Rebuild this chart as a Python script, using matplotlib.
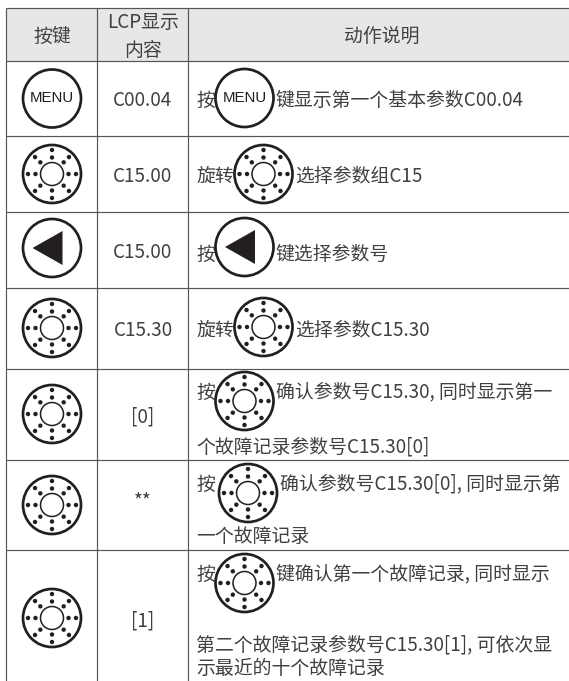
import math
import matplotlib
matplotlib.use("Agg")
import matplotlib.pyplot as plt
from matplotlib.patches import Circle, Polygon, Rectangle

plt.rcParams['font.family'] = ['Noto Sans CJK SC', 'DejaVu Sans']

# ---- content ----
headers = ["按键", "LCP显示", "内容", "动作说明"]
key_icons = ["menu", "knob", "left", "knob", "knob", "knob", "knob"]
lcp_values = ["C00.04", "C15.00", "C15.00", "C15.30", "[0]", "**", "[1]"]
before_icon = ["按", "旋转", "按", "旋转", "按", "按", "按"]
after_icon = ["键显示第一个基本参数C00.04", "选择参数组C15", "键选择参数号", "选择参数C15.30",
              "确认参数号C15.30, 同时显示第一", "确认参数号C15.30[0], 同时显示第", "键确认第一个故障记录, 同时显示"]
extra_lines = [[], [], [], [], ["个故障记录参数号C15.30[0]"], ["一个故障记录"],
               ["第二个故障记录参数号C15.30[1], 可依次显", "示最近的十个故障记录"]]

# ---- layout (pixels) ----
W, H = 569, 681
col_x = [6.5, 97.5, 188.5]
row_y = [7.5, 60.5, 136, 211.5, 287.5, 368.5, 459.5, 550]
icon_y = [98.5, 174, 248, 328, 414, 505, 618]
lcp_y = [99, 174, 250, 328, 415, 500, 619]
inline_x = [244.5, 263.5, 244.5, 263.5, 244.5, 248, 244.5]
inline_y = [98, 174, 247, 327, 401, 493, 583]
before_y = [98, 174, 252, 328, 390, 482, 572]
after_x = [275, 295, 275, 295, 276, 280, 276]
after_y = [98, 174, 252, 328, 390, 482, 572]
extra_y = [[], [], [], [], [445], [535], [643, 667]]
TEXT_DY = 2

TEXT = '#404040'
INK = '#231f20'
LINE = '#555555'
FS = 13.6

fig = plt.figure(figsize=(W / 100, H / 100), dpi=100)
ax = fig.add_axes([0, 0, 1, 1])
ax.set_xlim(0, W)
ax.set_ylim(H, 0)
ax.axis('off')


def txt(x, y, s, ha='left', **kw):
    kw.setdefault('fontsize', FS)
    kw.setdefault('color', TEXT)
    ax.text(x, y + TEXT_DY, s, ha=ha, va='center', **kw)


def outer(cx, cy):
    ax.add_patch(Circle((cx, cy), 29, fc='white', ec=INK, lw=1.95, zorder=3))


def draw_icon(kind, cx, cy):
    outer(cx, cy)
    if kind == 'menu':
        ax.text(cx, cy, "MENU", ha='center', va='center', fontsize=10.8,
                family='Liberation Sans', color=INK, zorder=4)
    elif kind == 'left':
        ax.add_patch(Polygon([(cx - 19.5, cy), (cx + 10.5, cy - 17), (cx + 10.5, cy + 17)],
                             closed=True, fc=INK, ec='none', zorder=4))
    else:
        ax.add_patch(Circle((cx, cy), 11.5, fc='white', ec=INK, lw=1.1, zorder=4))
        for k in range(8):
            a = k * math.pi / 4
            for r in (16.5, 24):
                ax.add_patch(Circle((cx + r * math.cos(a), cy + r * math.sin(a)), 2.2,
                                    fc=INK, ec='none', zorder=4))


# header fill
ax.add_patch(Rectangle((col_x[0], row_y[0]), W - col_x[0], row_y[1] - row_y[0],
                       fc='#e6e7e8', ec='none', zorder=0))
# grid
for y in row_y:
    ax.plot([col_x[0], W], [y, y], color=LINE, lw=0.85, zorder=1, solid_capstyle='butt')
for x in col_x:
    ax.plot([x, x], [row_y[0], H], color=LINE, lw=0.85, zorder=1, solid_capstyle='butt')

# header text
txt(52, 34, headers[0], ha='center')
txt(143, 21, headers[1], ha='center')
txt(143, 48, headers[2], ha='center')
txt(382, 34, headers[3], ha='center')

for i, kind in enumerate(key_icons):
    draw_icon(kind, 52, icon_y[i])
    txt(143, lcp_y[i], lcp_values[i], ha='center')
    txt(196, before_y[i], before_icon[i])
    txt(after_x[i], after_y[i], after_icon[i])
    for s, y in zip(extra_lines[i], extra_y[i]):
        txt(196, y, s)
    draw_icon(kind, inline_x[i], inline_y[i])

fig.savefig('out.png', dpi=100, facecolor='white')
